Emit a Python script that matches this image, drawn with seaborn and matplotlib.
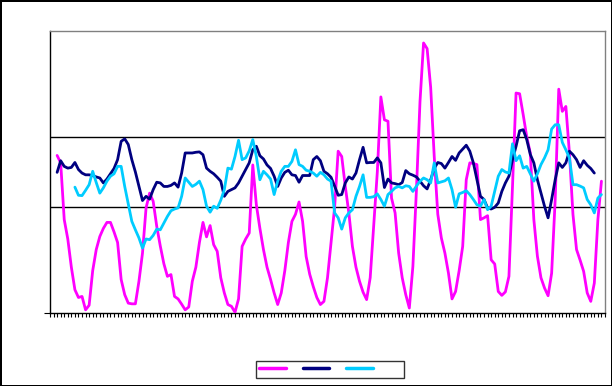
import numpy as np
import pandas as pd
import matplotlib
matplotlib.use("Agg")
import matplotlib.pyplot as plt
import seaborn as sns

# monthly index on the category axis
n_months = 156

# series values (start month given by *_start)
magenta_start = 2
magenta_vals = [
    4.47, 4.26, 2.65, 2.1, 1.3, 0.66, 0.44, 0.47, 0.09, 0.22,
    1.2, 1.8, 2.17, 2.4, 2.57, 2.57, 2.3, 2.0, 0.95, 0.52,
    0.28, 0.26, 0.26, 0.9, 1.7, 2.98, 3.4, 3.17, 2.46, 1.9,
    1.4, 1.04, 1.09, 0.47, 0.4, 0.25, 0.09, 0.17, 0.9, 1.3,
    2.0, 2.57, 2.16, 2.48, 1.94, 1.75, 1.0, 0.57, 0.24, 0.19,
    0.02, 0.4, 1.89, 2.1, 2.27, 4.2, 3.07, 2.4, 1.8, 1.3,
    0.95, 0.57, 0.24, 0.57, 1.2, 2.0, 2.6, 2.8, 3.15, 2.6,
    1.6, 1.1, 0.75, 0.44, 0.24, 0.33, 1.0, 2.0, 3.0, 4.59,
    4.44, 3.59, 2.84, 1.89, 1.3, 0.9, 0.59, 0.38, 1.0, 2.5,
    4.0, 6.13, 5.48, 5.44, 3.26, 2.84, 1.7, 1.0, 0.52, 0.14,
    1.32, 3.5, 6.0, 7.66, 7.5, 6.4, 4.44, 2.8, 2.13, 1.7,
    1.13, 0.4, 0.61, 1.2, 1.89, 3.78, 4.26, 4.24, 4.21, 2.65,
    2.7, 2.76, 1.51, 1.39, 0.61, 0.5, 0.6, 1.04, 3.59, 6.24,
    6.22, 5.63, 5.0, 4.54, 2.65, 1.61, 1.0, 0.71, 0.49, 1.13,
    3.22, 6.35, 5.72, 5.86, 4.54, 2.79, 1.80, 1.5, 1.18, 0.57,
    0.33, 0.85, 2.65, 3.74,
]

navy_start = 2
navy_vals = [
    3.99, 4.32, 4.16, 4.11, 4.13, 4.27, 4.07, 3.97, 3.92, 3.92,
    3.9, 3.86, 3.83, 3.69, 3.8, 3.95, 4.1, 4.35, 4.87, 4.94,
    4.78, 4.35, 4.0, 3.6, 3.19, 3.31, 3.23, 3.5, 3.71, 3.69,
    3.59, 3.59, 3.62, 3.69, 3.57, 3.97, 4.54, 4.54, 4.54, 4.56,
    4.57, 4.49, 4.11, 4.02, 3.95, 3.85, 3.74, 3.31, 3.45, 3.5,
    3.55, 3.69, 3.88, 4.07, 4.26, 4.63, 4.73, 4.46, 4.37, 4.2,
    4.1, 3.88, 3.59, 3.83, 3.99, 4.05, 3.92, 3.9, 3.71, 3.9,
    3.9, 3.9, 4.35, 4.44, 4.32, 4.02, 3.95, 3.85, 3.6, 3.34,
    3.36, 3.69, 3.86, 3.80, 3.97, 4.35, 4.7, 4.26, 4.27, 4.27,
    4.4, 4.26, 3.56, 3.80, 3.69, 3.67, 3.64, 3.7, 4.04, 3.95,
    3.91, 3.86, 3.74, 3.61, 3.52, 3.78, 4.1, 4.27, 4.24, 4.11,
    4.27, 4.44, 4.33, 4.54, 4.65, 4.76, 4.59, 4.26, 3.78, 3.31,
    3.22, 2.98, 2.95, 3.0, 3.12, 3.45, 3.69, 3.88, 4.35, 4.73,
    5.17, 5.2, 4.92, 4.5, 4.26, 3.78, 3.4, 3.03, 2.7, 3.22,
    3.78, 4.26, 4.13, 4.26, 4.59, 4.49, 4.35, 4.13, 4.32, 4.19,
    4.1, 3.97,
]

cyan_start = 7
cyan_vals = [
    3.57, 3.34, 3.33, 3.48, 3.64, 4.02, 3.7, 3.40, 3.55, 3.74,
    3.88, 3.95, 4.16, 4.16, 3.59, 3.1, 2.6, 2.36, 2.13, 1.84,
    2.1, 2.08, 2.2, 2.38, 2.36, 2.55, 2.74, 2.9, 2.95, 2.98,
    3.31, 3.83, 3.71, 3.59, 3.65, 3.74, 3.5, 3.03, 2.86, 3.03,
    2.97, 3.2, 3.5, 4.11, 4.08, 4.44, 4.9, 4.35, 4.4, 4.6,
    4.92, 4.44, 3.78, 4.02, 3.92, 3.8, 3.36, 3.74, 4.02, 4.16,
    4.16, 4.3, 4.63, 4.21, 4.16, 4.05, 4.02, 3.97, 3.88, 3.99,
    3.92, 3.8, 3.74, 2.84, 2.7, 2.38, 2.7, 2.84, 2.93, 3.31,
    3.59, 3.92, 3.28, 3.28, 3.3, 3.38, 3.22, 3.03, 3.36, 3.45,
    3.55, 3.59, 3.55, 3.61, 3.59, 3.45, 3.6, 3.74, 3.83, 3.78,
    3.69, 4.26, 3.69, 3.72, 3.75, 3.83, 3.5, 3.0, 3.38, 3.42,
    3.47, 3.36, 3.22, 3.07, 3.03, 3.22, 2.93, 3.03, 3.45, 3.88,
    4.07, 4.0, 3.97, 4.8, 4.32, 4.46, 4.11, 4.16, 3.95, 3.74,
    3.95, 4.21, 4.4, 4.63, 5.22, 5.34, 5.34, 4.84, 4.63, 4.40,
    3.64, 3.64, 3.6, 3.55, 3.22, 3.07, 2.84, 3.26, 3.36,
]

# reference levels (black horizontal lines)
lower_level = 3.0
upper_level = 5.0
y_max = 8.0

# legend entries carry no visible text in the original
legend_labels = ["", "", "        "]


def pad(vals, start):
    out = np.full(n_months, np.nan)
    out[start:start + len(vals)] = vals
    return out


df = pd.DataFrame({
    "month": np.arange(n_months),
    "magenta": pad(magenta_vals, magenta_start),
    "navy": pad(navy_vals, navy_start),
    "cyan": pad(cyan_vals, cyan_start),
})

sns.set_style("white")

fig = plt.figure(figsize=(6.12, 3.86), dpi=100, edgecolor="black", linewidth=2)
ax = fig.add_axes([50 / 612, 1 - 313 / 386, 555 / 612, 282 / 386])

ax.axhline(upper_level, color="black", linewidth=1.0, zorder=1)
ax.axhline(lower_level, color="black", linewidth=1.0, zorder=1)

colors = {"magenta": "#FF00FF", "navy": "#000080", "cyan": "#00CCFF"}
for name in ["magenta", "navy", "cyan"]:
    sns.lineplot(data=df, x="month", y=name, color=colors[name],
                 linewidth=2.0, ax=ax, legend=False, zorder=3)

ax.set_xlim(0, n_months)
ax.set_ylim(0, y_max)
ax.set_xlabel("")
ax.set_ylabel("")

ax.set_xticks(np.arange(n_months + 1))
ax.set_xticklabels([])
ax.set_yticks([0])
ax.set_yticklabels([])
ax.tick_params(axis="x", direction="out", length=3, width=0.8, color="black")
ax.tick_params(axis="y", direction="out", length=4, width=0.8, color="black")
ax.tick_params(bottom=True, left=True)

for side in ["left", "bottom"]:
    ax.spines[side].set_color("black")
    ax.spines[side].set_linewidth(1.0)
for side in ["top", "right"]:
    ax.spines[side].set_color("#808080")
    ax.spines[side].set_linewidth(1.0)

handles = ax.lines[2:5]
leg = fig.legend(handles, legend_labels, loc="upper left",
                 bbox_to_anchor=(256 / 612, 1 - 361 / 386), ncol=3,
                 fontsize=8, frameon=True, fancybox=False, shadow=False,
                 handlelength=2.4, handletextpad=0.0, columnspacing=1.5,
                 borderpad=0.3, borderaxespad=0)
leg.get_frame().set_edgecolor("black")
leg.get_frame().set_linewidth(1.0)
for line in leg.get_lines():
    line.set_linewidth(2.5)

fig.savefig("out.png", dpi=100)
